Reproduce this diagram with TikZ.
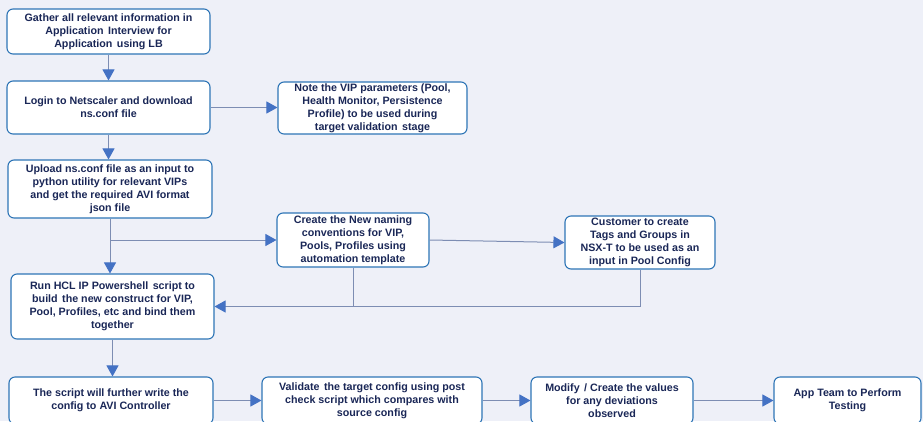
\documentclass[tikz,border=0pt]{standalone}
\usepackage{fontspec}
\setmainfont{Liberation Sans}
\usetikzlibrary{arrows.meta}
\definecolor{bg}{HTML}{EEF0F8}
\definecolor{boxblue}{HTML}{2E75B6}
\definecolor{navy}{HTML}{1A2757}
\definecolor{linec}{HTML}{7D8DB3}
\definecolor{tipc}{HTML}{4472C4}
\newcommand{\wsp}{\ \kern1.5pt}
\tikzset{
  box/.style={draw=boxblue, line width=1.1pt, fill=white, rounded corners=6pt,
    align=center, font=\bfseries\fontsize{10.7}{12.9}\selectfont, text=navy, inner sep=1pt},
  conn/.style={draw=linec, line width=1pt},
  arr/.style={conn, -{Triangle[width=12pt,length=11pt,color=tipc]}}
}
\begin{document}
\begin{tikzpicture}[x=1pt,y=-1pt]
\useasboundingbox[fill=bg] (0,0) rectangle (923,421);
\node[box, minimum width=203pt, minimum height=45pt] (b1) at (108.5,31.5)
  {Gather all relevant information in\\Application\wsp Interview for\\Application\wsp using LB};
\node[box, minimum width=203pt, minimum height=53pt] (b2) at (108.5,107.5)
  {Login to Netscaler and download\\ns.conf file};
\node[box, minimum width=189pt, minimum height=52pt] (b3) at (372.5,108)
  {Note the VIP parameters (Pool,\\Health Monitor, Persistence\\Profile) to be used during\\target validation\wsp stage};
\node[box, minimum width=204pt, minimum height=58pt] (b4) at (110,189)
  {Upload ns.conf file as an input to\\python utility for relevant VIPs\\and get the required AVI format\\json file};
\node[box, minimum width=152pt, minimum height=54pt] (b6) at (353,240)
  {Create the New naming\\conventions for VIP,\\Pools, Profiles using\\automation template};
\node[box, minimum width=150pt, minimum height=53pt] (b7) at (640,242.5)
  {Customer to create\\Tags and Groups in\\NSX-T to be used as an\\input in Pool Config};
\node[box, minimum width=203pt, minimum height=65pt] (b5) at (112.5,306.5)
  {Run HCL IP Powershell\wsp script to\\build\wsp the new construct for VIP,\\Pool, Profiles, etc and bind them\\together};
\node[box, minimum width=204pt, minimum height=47pt] (b8) at (111,400.5)
  {The script will further write the\\config to AVI Controller};
\node[box, minimum width=220pt, minimum height=47pt] (b9) at (372,400.5)
  {Validate\wsp the target config using post\\check script which compares with\\source config};
\node[box, minimum width=162pt, minimum height=47pt] (b10) at (612,400.5)
  {Modify\wsp / Create the values\\for any deviations\\observed};
\node[box, minimum width=147pt, minimum height=47pt] (b11) at (847.5,400.5)
  {App Team to Perform\\Testing};
% connectors
\draw[arr] (b1.south) -- (b2.north);
\draw[arr] (b2.east) -- (b2.east -| b3.west);
\draw[arr] (b2.south) -- (b2.south |- b4.north);
\draw[arr] (b4.south) -- (b4.south |- b5.north);
\coordinate (j1) at (b4.south |- b6.west);
\draw[arr] (j1) -- (b6.west);
\draw[arr] (b6.east) -- (b7.west);
\draw[conn] (b6.south) -- (b6.south |- b5.east);
\draw[arr] (b7.south) |- (b5.east);
\draw[arr] (b5.south) -- (b5.south |- b8.north);
\draw[arr] (b8.east) -- (b9.west);
\draw[arr] (b9.east) -- (b10.west);
\draw[arr] (b10.east) -- (b11.west);
\end{tikzpicture}
\end{document}
